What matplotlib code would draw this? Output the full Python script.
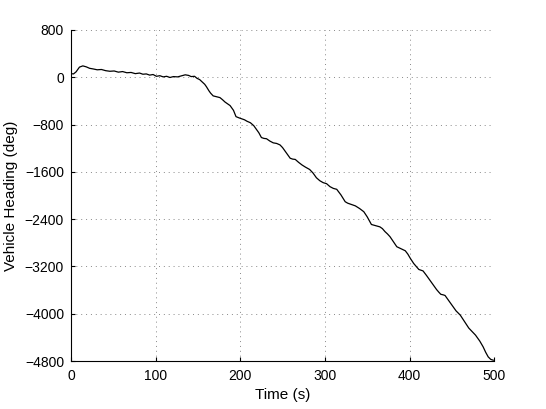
import matplotlib
matplotlib.use("Agg")
import matplotlib.pyplot as plt

# ------------------ data ------------------
time_s = [0, 3, 6, 10, 14, 18, 22, 26, 31, 36, 41, 46, 51, 56, 61, 66, 71,
          76, 81, 85, 89, 93, 97, 101, 105, 109, 113, 117, 121, 126, 131,
          135, 139, 142, 146, 149, 152, 155, 158, 160, 163, 165, 168, 172,
          176, 179, 182, 185, 188, 192, 195, 199, 202, 205, 208, 212, 216,
          219, 222, 225, 228, 231, 235, 239, 243, 247, 250, 253, 256, 259,
          262, 265, 269, 273, 277, 282, 286, 290, 294, 298, 302, 306, 310,
          314, 319, 324, 327, 330, 333, 336, 341, 346, 350, 355, 360, 365,
          368, 371, 374, 377, 381, 385, 390, 395, 398, 401, 405, 411, 414,
          416, 420, 424, 428, 432, 435, 437, 440, 442, 446, 450, 455, 460,
          465, 470, 474, 478, 483, 487, 490, 493, 496, 499]
heading_deg = [60, 55, 90, 170, 191, 175, 150, 140, 125, 130, 110, 100, 105,
               85, 95, 75, 80, 60, 70, 50, 55, 35, 45, 15, 25, 5, 15, -5, 10,
               5, 25, 40, 30, 10, 15, -20, -40, -80, -120, -160, -230, -270,
               -316, -330, -345, -380, -420, -450, -480, -560, -667, -690,
               -705, -720, -745, -770, -820, -880, -940, -1020, -1035, -1040,
               -1080, -1110, -1120, -1145, -1190, -1250, -1310, -1370, -1385,
               -1390, -1440, -1484, -1520, -1560, -1620, -1700, -1750, -1783,
               -1800, -1850, -1880, -1895, -1990, -2105, -2130, -2145, -2160,
               -2175, -2220, -2274, -2360, -2490, -2510, -2530, -2560, -2610,
               -2650, -2697, -2780, -2866, -2900, -2934, -2990, -3063, -3150,
               -3250, -3265, -3275, -3350, -3430, -3510, -3590, -3640, -3670,
               -3680, -3690, -3770, -3853, -3950, -4022, -4130, -4240, -4300,
               -4360, -4460, -4558, -4650, -4728, -4770, -4784]

x_ticks = [0, 100, 200, 300, 400, 500]
y_ticks = [800, 0, -800, -1600, -2400, -3200, -4000, -4800]

plt.rcParams['font.family'] = ['Liberation Sans', 'DejaVu Sans']

fig = plt.figure(figsize=(5.46, 4.09), dpi=100)
ax = fig.add_axes([0.130, 0.117, 0.775, 0.810])

ax.plot(time_s, heading_deg, color='black', linewidth=0.9)

ax.set_xlim(0, 500)
ax.set_ylim(-4800, 800)
ax.set_xticks(x_ticks)
ax.set_yticks(y_ticks)
ax.tick_params(direction='in', length=3, labelsize=10, colors='black')
ax.tick_params(axis='x', pad=6)
ax.tick_params(axis='y', pad=5)
ax.grid(True, linestyle=(0, (1, 4)), color='#888888', linewidth=0.7)

for side in ['top', 'right']:
    ax.spines[side].set_visible(False)
for side in ['left', 'bottom']:
    ax.spines[side].set_linewidth(0.8)

ax.set_xlabel("Time (s)", fontsize=11, labelpad=3)
ax.set_ylabel("Vehicle Heading (deg)", fontsize=11, labelpad=5)

fig.savefig("out.png", dpi=100)
